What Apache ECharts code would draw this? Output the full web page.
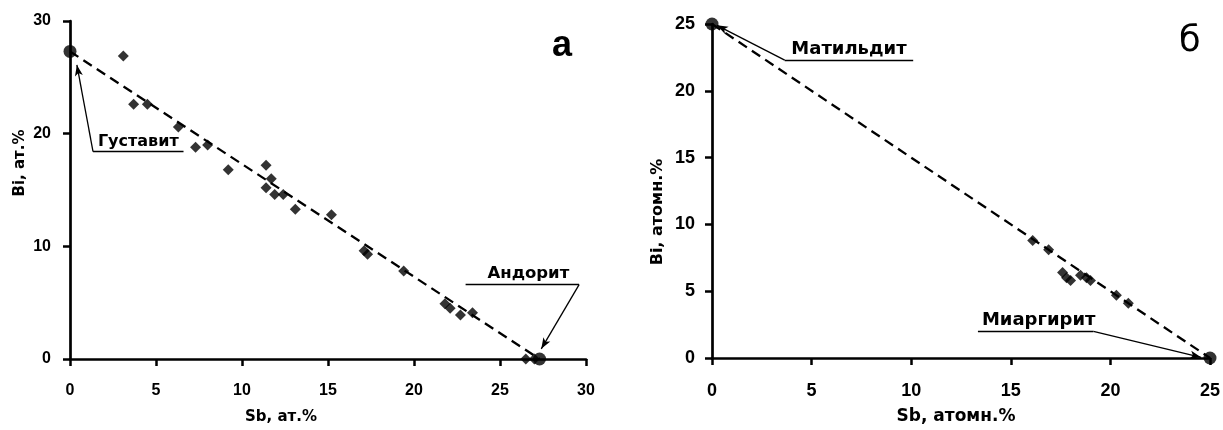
<!DOCTYPE html>
<html>
<head>
<meta charset="utf-8">
<script src="https://cdn.jsdelivr.net/npm/echarts@6/dist/echarts.min.js"></script>
<style>
  html, body { margin: 0; padding: 0; background: #fff; }
  #chart { width: 1223px; height: 430px; }
</style>
</head>
<body>
<div id="chart"></div>
<script>
// Panel а: Sb vs Bi, at.% (gustavite – andorite series)
const sbA = [3.1, 3.7, 4.5, 6.3, 7.3, 8.0, 9.2, 11.4, 11.4, 11.7, 11.9, 12.4, 13.1, 15.2, 17.1, 17.3, 19.4, 21.8, 22.1, 22.7, 23.4, 26.5, 27.0];
const biA = [26.9, 22.6, 22.6, 20.6, 18.8, 19.0, 16.8, 17.2, 15.2, 16.0, 14.6, 14.6, 13.3, 12.8, 9.6, 9.3, 7.8, 4.9, 4.5, 3.9, 4.1, 0.0, 0.0];
const endA = [[0, 27.3], [27.3, 0]];           // gustavite, andorite
const namesA = ['Густавит', 'Андорит'];

// Panel б: Sb vs Bi, atomic % (matildite – miargyrite series)
const sbB = [16.1, 16.9, 17.6, 17.8, 18.0, 18.5, 18.8, 19.0, 20.3, 20.9];
const biB = [8.8, 8.1, 6.4, 6.0, 5.8, 6.2, 6.0, 5.8, 4.7, 4.1];
const endB = [[0, 25], [25, 0]];               // matildite, miargyrite
const namesB = ['Матильдит', 'Миаргирит'];

const xTicksA = { min: 0, max: 30, interval: 5 };
const yTicksA = { min: 0, max: 30, interval: 10 };
const xTicksB = { min: 0, max: 25, interval: 5 };
const yTicksB = { min: 0, max: 25, interval: 5 };

const NUM_FONT = '"Liberation Sans", Arial, sans-serif';
const TXT_FONT = '"DejaVu Sans", Verdana, sans-serif';
const BLACK = '#000';

function axis(t, opts) {
  return {
    type: 'value', min: t.min, max: t.max, interval: t.interval,
    gridIndex: opts.grid,
    name: opts.name, nameLocation: 'middle', nameGap: opts.nameGap,
    nameTextStyle: { fontFamily: TXT_FONT, fontWeight: 'bold', fontSize: opts.nameSize,
                     color: BLACK, padding: opts.namePad },
    axisLine: { show: true, onZero: false, lineStyle: { color: BLACK, width: 2.7 } },
    axisTick: { show: true, length: 7, lineStyle: { color: BLACK, width: 2.5 } },
    splitLine: { show: false },
    axisLabel: { fontFamily: NUM_FONT, fontWeight: 'bold', fontSize: opts.labelSize,
                 color: BLACK, margin: opts.labelMargin }
  };
}

// Callout: underlined label plus a leader line ending in an arrowhead
function callout(text, size, ux0, ux1, uy, tip, shift) {
  return [
    [
      { coord: [ux0, uy], symbol: 'none' },
      { coord: [ux1, uy], symbol: 'none',
        label: { show: true, formatter: text, position: 'insideMiddleTop', distance: 2,
                 padding: shift || 0,
                 fontFamily: TXT_FONT, fontWeight: 'bold', fontSize: size, color: BLACK } }
    ],
    [
      { coord: [ux0, uy], symbol: 'none' },
      { coord: tip, symbol: 'arrow', symbolSize: [6, 11], label: { show: false } }
    ]
  ];
}

function zip(a, b) { return a.map((v, i) => [v, b[i]]); }

function panelSeries(idx, pts, ends, calloutsData) {
  return [
    {
      type: 'line', xAxisIndex: idx, yAxisIndex: idx, data: ends,
      symbol: 'none', silent: true, z: 2,
      lineStyle: { color: BLACK, width: 2.3, type: [10, 6] }
    },
    {
      type: 'scatter', xAxisIndex: idx, yAxisIndex: idx, data: pts,
      symbol: 'diamond', symbolSize: 11, clip: false, z: 3,
      itemStyle: { color: BLACK }
    },
    {
      type: 'scatter', xAxisIndex: idx, yAxisIndex: idx, data: ends,
      symbol: 'circle', symbolSize: 13, clip: false, z: 4,
      itemStyle: { color: BLACK },
      markLine: {
        silent: true, symbol: ['none', 'none'], precision: 3,
        lineStyle: { color: BLACK, width: 1.3, type: 'solid' },
        label: { show: false },
        data: calloutsData
      }
    }
  ];
}

const chart = echarts.init(document.getElementById('chart'), null, { renderer: 'canvas' });
chart.setOption({
  backgroundColor: '#fff',
  animation: false,
  graphic: [
    { type: 'text', left: 552, top: 28,
      style: { text: 'а', font: 'bold 36px ' + NUM_FONT, fill: BLACK } },
    { type: 'text', left: 1179, top: 24,
      style: { text: 'б', font: 'normal 35px ' + TXT_FONT, fill: BLACK } }
  ],
  grid: [
    { left: 70, top: 21, width: 516, height: 342 },
    { left: 712, top: 24, width: 500, height: 339 }
  ],
  xAxis: [
    axis(xTicksA, { grid: 0, name: 'Sb, ат.%', nameGap: 51, nameSize: 15, namePad: [0, 94, 0, 0],
                    labelSize: 16, labelMargin: 24 }),
    axis(xTicksB, { grid: 1, name: 'Sb, атомн.%', nameGap: 50, nameSize: 17, namePad: [0, 10, 0, 0],
                    labelSize: 18, labelMargin: 24 })
  ],
  yAxis: [
    axis(yTicksA, { grid: 0, name: 'Bi, ат.%', nameGap: 42, nameSize: 15, namePad: [0, 0, 0, 54],
                    labelSize: 16, labelMargin: 19 }),
    axis(yTicksB, { grid: 1, name: 'Bi, атомн.%', nameGap: 46, nameSize: 16, namePad: [0, 42, 0, 0],
                    labelSize: 18, labelMargin: 17 })
  ],
  series: [].concat(
    panelSeries(0, zip(sbA, biA), endA,
      callout(namesA[0], 16, 1.34, 6.6, 18.4, [0.4, 26.1])
        .concat(callout(namesA[1], 16.5, 29.6, 23.0, 6.6, [27.4, 0.9], [0, 0, 0, 12]))),
    panelSeries(1, zip(sbB, biB), endB,
      callout(namesB[0], 18, 3.65, 10.1, 22.3, [0.25, 24.9])
        .concat(callout(namesB[1], 18, 19.15, 13.35, 2.0, [24.55, 0.05], [0, 0, 0, 6])))
  )
});
</script>
</body>
</html>
